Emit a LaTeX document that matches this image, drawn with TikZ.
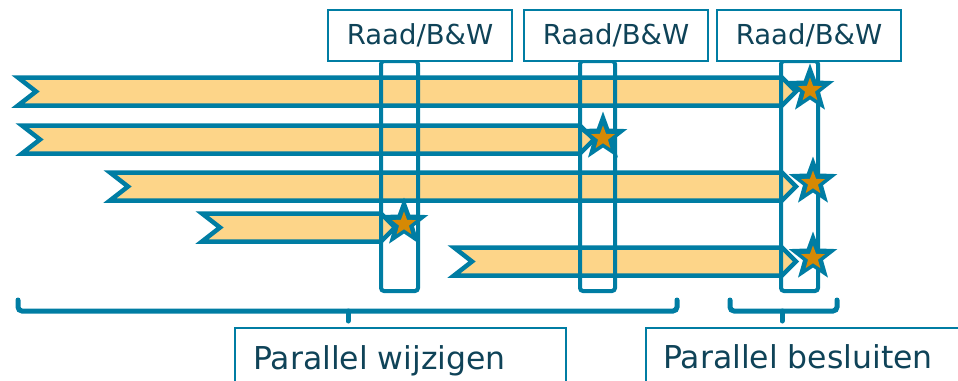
\documentclass[tikz,border=0pt]{standalone}
\usepackage{fontspec}
\setmainfont{DejaVu Sans}
\definecolor{tealc}{RGB}{0,125,163}
\definecolor{barfill}{RGB}{253,213,137}
\definecolor{starfill}{RGB}{214,137,4}
\definecolor{txt}{RGB}{15,67,88}
\tikzset{
  chev/.style={draw=tealc, fill=barfill, line width=4.5pt, line join=miter},
  window/.style={draw=tealc, line width=4pt, rounded corners=3pt},
  raad/.style={draw=tealc, line width=1.4pt, fill=white, minimum width=184pt, minimum height=51pt, inner sep=0pt, text=txt, font=\fontsize{27.5}{32}\selectfont},
  bigstar/.style={fill=tealc},
  smallstar/.style={fill=starfill},
  brace/.style={draw=tealc, line width=5pt, line cap=round, rounded corners=4pt},
  phase/.style={draw=tealc, line width=1.4pt},
  phasetxt/.style={anchor=base west, inner sep=0pt, text=txt, font=\fontsize{31.5}{36}\selectfont}
}
\begin{document}
\begin{tikzpicture}[x=1pt,y=-1pt]
\useasboundingbox (0,0) rectangle (958,380);
\clip (0,0) rectangle (958,380);
% chevron bars: x0, xr, cy
\foreach \xa/\xb/\cy in {18/782/91.5, 22/580/139.5, 110/782/186.5, 202/381/227.5, 454/782/261.5}{
  \draw[chev] (\xa,\cy-14) -- (\xb,\cy-14) -- (\xb+14,\cy) -- (\xb,\cy+14) -- (\xa,\cy+14) -- (\xa+18,\cy) -- cycle;
}
% decision windows
\draw[window] (381,61) rectangle (418,291);
\draw[window] (580,61) rectangle (615,291);
\draw[window] (781,61) rectangle (818,291);
% labels
\node[raad] (r1) at (420,35.5) {Raad/B\&W};
\node[raad] (r2) at (616,35.5) {Raad/B\&W};
\node[raad] (r3) at (809,35.5) {Raad/B\&W};
% stars
\foreach \n/\sx/\sy in {s1/810/89, s2/603/137, s3/813/182, s4/404/223, s5/813/257}{
  \coordinate (\n) at (\sx,\sy);
  \fill[bigstar] plot[samples at={0,...,9}] ({\sx+(10.5+15*(1-mod(\x,2)))*cos(90+36*\x)}, {\sy-(10.5+15*(1-mod(\x,2)))*sin(90+36*\x)}) -- cycle;
  \fill[smallstar] plot[samples at={0,...,9}] ({\sx+(5.2+7.3*(1-mod(\x,2)))*cos(90+36*\x)}, {\sy+1-(5.2+7.3*(1-mod(\x,2)))*sin(90+36*\x)}) -- cycle;
}
% braces
\draw[brace] (18,300) |- (677,311) -- (677,300);
\draw[brace] (348,311) -- (348,321);
\draw[brace] (730,300) |- (837,311) -- (837,300);
\draw[brace] (782,311) -- (782,321);
% phase boxes
\draw[phase] (235,328) rectangle (566,400);
\node[phasetxt] (p1) at (253,369) {Parallel wijzigen};
\draw[phase] (646,328) rectangle (975,400);
\node[phasetxt] (p2) at (663,368) {Parallel besluiten};
\end{tikzpicture}
\end{document}
